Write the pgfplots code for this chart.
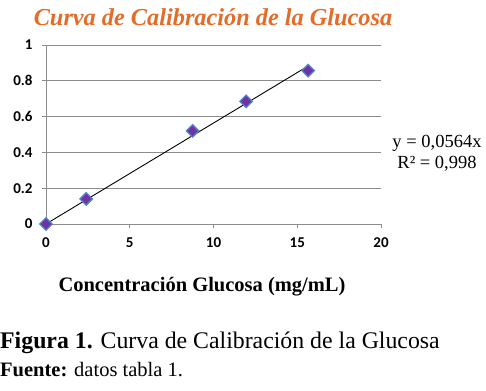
\documentclass[border=0pt]{standalone}
\usepackage{pgfplots}
\pgfplotsset{compat=1.18}
\usepackage{fontspec}
\setmainfont{Liberation Serif}
\newfontfamily\carlito{Carlito}
\definecolor{titleorange}{RGB}{228,108,40}
\definecolor{mkfill}{RGB}{112,52,160}
\definecolor{mkedge}{RGB}{80,130,210}
\definecolor{gridgray}{RGB}{140,140,140}
\begin{document}
\begin{tikzpicture}[x=1pt,y=1pt]
\useasboundingbox (0,0) rectangle (486,390);
\begin{axis}[
  at={(46pt,166pt)}, anchor=south west,
  scale only axis, width=335pt, height=179pt,
  xmin=0, xmax=20, ymin=0, ymax=1,
  axis x line*=bottom, axis y line*=left,
  axis line style={gridgray, line width=0.8pt, -},
  xtick={0,5,10,15,20}, ytick={0,0.2,0.4,0.6,0.8,1},
  yticklabels={0,0.2,0.4,0.6,0.8,1},
  xticklabels={0,5,10,15,20},
  tick align=outside, major tick length=4pt,
  tick style={gridgray, line width=0.8pt},
  ymajorgrids, grid style={gridgray, line width=0.8pt},
  ticklabel style={font=\carlito\bfseries\fontsize{15}{17}\selectfont},
  /pgf/number format/assume math mode=true,
  xticklabel style={yshift=-6pt},
  yticklabel style={xshift=-6pt},
  clip=false,
]
\addplot[only marks, mark=square*, mark size=4.4pt,
  mark options={rotate=45, fill=mkfill, draw=mkedge, line width=1.3pt}]
  coordinates {(0,0) (2.4,0.14) (8.75,0.52) (11.95,0.685) (15.65,0.857)};
\addplot[black, line width=0.9pt] coordinates {(0,0) (15.6,0.8798)};
\end{axis}
\node[font=\bfseries\itshape\fontsize{24.3}{28}\selectfont, text=titleorange, anchor=base] at (213,364) {Curva de Calibración de la Glucosa};
\node[font=\fontsize{18.5}{21}\selectfont, align=center, anchor=center, inner sep=0pt] at (437,237) {y = 0,0564x\\R² = 0,998};
\node[font=\bfseries\fontsize{20.5}{24}\selectfont, anchor=base] at (202,98) {Concentración Glucosa (mg/mL)};
\node[font=\fontsize{23.8}{28}\selectfont, anchor=base west, inner sep=0pt] at (0,41) {\textbf{Figura 1.} Curva de Calibración de la Glucosa};
\node[font=\fontsize{20.5}{24}\selectfont, anchor=base west, inner sep=0pt] at (0,13) {\textbf{Fuente:} datos tabla 1.};
\end{tikzpicture}
\end{document}
